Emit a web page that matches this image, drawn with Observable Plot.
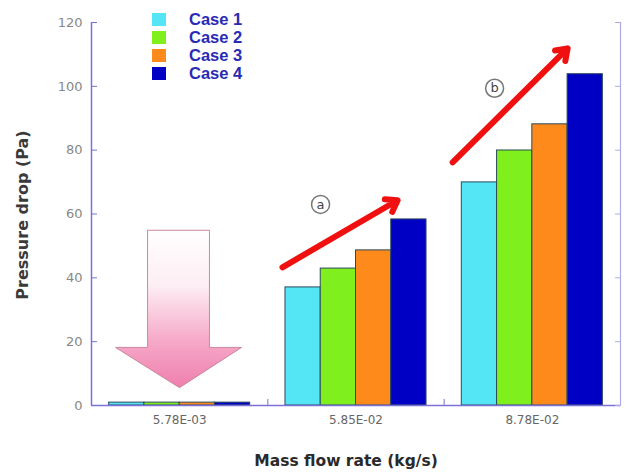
<!DOCTYPE html>
<html>
<head>
<meta charset="utf-8">
<script src="https://cdn.jsdelivr.net/npm/d3@7"></script>
<script src="https://cdn.jsdelivr.net/npm/@observablehq/plot@0.6"></script>
<style>
  html, body { margin: 0; padding: 0; background: #fff; }
  #wrap { position: relative; width: 627px; height: 476px; overflow: hidden; }
  #legend { position: absolute; left: 152px; top: 10px; font-family: "Liberation Sans", Arial, sans-serif; font-weight: bold; font-size: 16.5px; color: #2a2ab4; }
  .row { display: flex; align-items: center; height: 18px; }
  .sw { width: 14px; height: 13px; margin-right: 23px; }
  .ytitle { position: absolute; left: 22px; top: 215px; transform: translate(-50%, -50%) rotate(-90deg); white-space: nowrap; font-family: "DejaVu Sans", sans-serif; font-size: 16px; font-weight: bold; color: #3a3a3a; }
  .xtitle { position: absolute; left: 346px; top: 461px; transform: translate(-50%, -50%); white-space: nowrap; font-family: "DejaVu Sans", sans-serif; font-size: 15.5px; font-weight: bold; color: #2a2a2a; }
</style>
</head>
<body>
<div id="wrap">
  <div id="chart"></div>
  <div id="legend"></div>
  <div class="ytitle">Pressure drop (Pa)</div>
  <div class="xtitle">Mass flow rate (kg/s)</div>
</div>
<script>
// ---- data ----
const groups = ["5.78E-03", "5.85E-02", "8.78E-02"];
const cases = ["Case 1", "Case 2", "Case 3", "Case 4"];
const case1 = [0.9, 37.0, 69.9];
const case2 = [0.9, 42.9, 79.9];
const case3 = [0.9, 48.6, 88.1];
const case4 = [0.9, 58.3, 103.8];
const caseColors = ["#55e6f6", "#7ff01e", "#ff8a1c", "#0000c4"];
const yTicks = [0, 20, 40, 60, 80, 100, 120];

// annotations (in data coordinates: x = group position 0..3, y = Pa)
const redArrows = [
  {x1: 1.083, y1: 43.3, x2: 1.736, y2: 64.3},
  {x1: 2.048, y1: 76.2, x2: 2.700, y2: 111.9}
];
const circleLabels = [
  {x: 1.299, y: 63.0, t: "a"},
  {x: 2.286, y: 99.4, t: "b"}
];
const pinkArrow = [
  {x: 0.318, y: 54.9}, {x: 0.669, y: 54.9}, {x: 0.669, y: 18.2},
  {x: 0.851, y: 18.2}, {x: 0.499, y: 5.6}, {x: 0.136, y: 18.2},
  {x: 0.318, y: 18.2}, {x: 0.318, y: 54.9}
];

const series = [case1, case2, case3, case4];
const rows = [];
groups.forEach((g, gi) => cases.forEach((c, ci) => rows.push({group: g, gi, case: c, ci, value: series[ci][gi]})));

const axisColor = "#7a70d6";

const chart = Plot.plot({
  width: 627, height: 476,
  marginLeft: 91, marginRight: 7, marginTop: 22, marginBottom: 71,
  x: {domain: [0, 3], axis: null},
  y: {domain: [0, 120], axis: null},
  color: {domain: cases, range: caseColors},
  style: {fontFamily: "DejaVu Sans, sans-serif", fontSize: "11px", color: "#777", background: "white"},
  marks: [
    Plot.line(pinkArrow, {x: "x", y: "y", fill: "url(#pinkGrad)", stroke: "#c98a9c", strokeWidth: 1, curve: "linear"}),
    Plot.rectY(rows, {
      x1: d => d.gi + 0.1 + d.ci * 0.2,
      x2: d => d.gi + 0.3 + d.ci * 0.2,
      y1: 0, y2: "value", fill: "case", stroke: "#2b4a5a", strokeWidth: 1
    }),
    Plot.arrow(redArrows, {x1: "x1", y1: "y1", x2: "x2", y2: "y2", stroke: "#f01010", strokeWidth: 6, headLength: 3.2, headAngle: 70}),
    Plot.dot(circleLabels, {x: "x", y: "y", r: 9, stroke: "#777", strokeWidth: 1.5, fill: "white"}),
    Plot.text(circleLabels, {x: "x", y: "y", text: "t", fontSize: 13, fill: "#444"}),
    // frame lines
    Plot.ruleX([0], {stroke: axisColor, strokeWidth: 1.5}),
    Plot.ruleX([3], {stroke: "#aeaae8", strokeWidth: 1.2}),
    Plot.ruleY([0], {stroke: axisColor, strokeWidth: 1.5}),
    // left axis labels + inward ticks
    Plot.axisY({ticks: yTicks, tickSize: 0, tickPadding: 9, label: null, fontSize: 13, fill: "#888"}),
    Plot.axisY({ticks: yTicks, tickSize: 6, dx: 6, tickFormat: () => "", label: null, stroke: axisColor}),
    // right axis inward ticks
    Plot.axisY({anchor: "right", ticks: yTicks, tickSize: 6, dx: -6, tickFormat: () => "", label: null, stroke: "#aeaae8"}),
    // bottom group boundary ticks
    Plot.axisX({ticks: [1, 2], tickSize: 6, dy: -6, tickFormat: () => "", label: null, stroke: axisColor}),
    // bottom category labels
    Plot.axisX({ticks: [0.5, 1.5, 2.5], tickSize: 0, tickPadding: 10, tickFormat: d => groups[Math.floor(d)], label: null, fontSize: 12, fill: "#666"})
  ]
});

// gradient for the pink arrow
const svg = d3.select(chart);
const defs = svg.insert("defs", ":first-child");
const grad = defs.append("linearGradient").attr("id", "pinkGrad").attr("x1", 0).attr("y1", 0).attr("x2", 0).attr("y2", 1);
grad.append("stop").attr("offset", "0%").attr("stop-color", "#ffffff");
grad.append("stop").attr("offset", "35%").attr("stop-color", "#fdeef4");
grad.append("stop").attr("offset", "70%").attr("stop-color", "#f6a9c8");
grad.append("stop").attr("offset", "100%").attr("stop-color", "#ef7fae");

document.getElementById("chart").appendChild(chart);

// legend
const legend = document.getElementById("legend");
cases.forEach((c, i) => {
  const row = document.createElement("div");
  row.className = "row";
  const sw = document.createElement("span");
  sw.className = "sw";
  sw.style.background = caseColors[i];
  const t = document.createElement("span");
  t.textContent = c;
  row.appendChild(sw);
  row.appendChild(t);
  legend.appendChild(row);
});
</script>
</body>
</html>
